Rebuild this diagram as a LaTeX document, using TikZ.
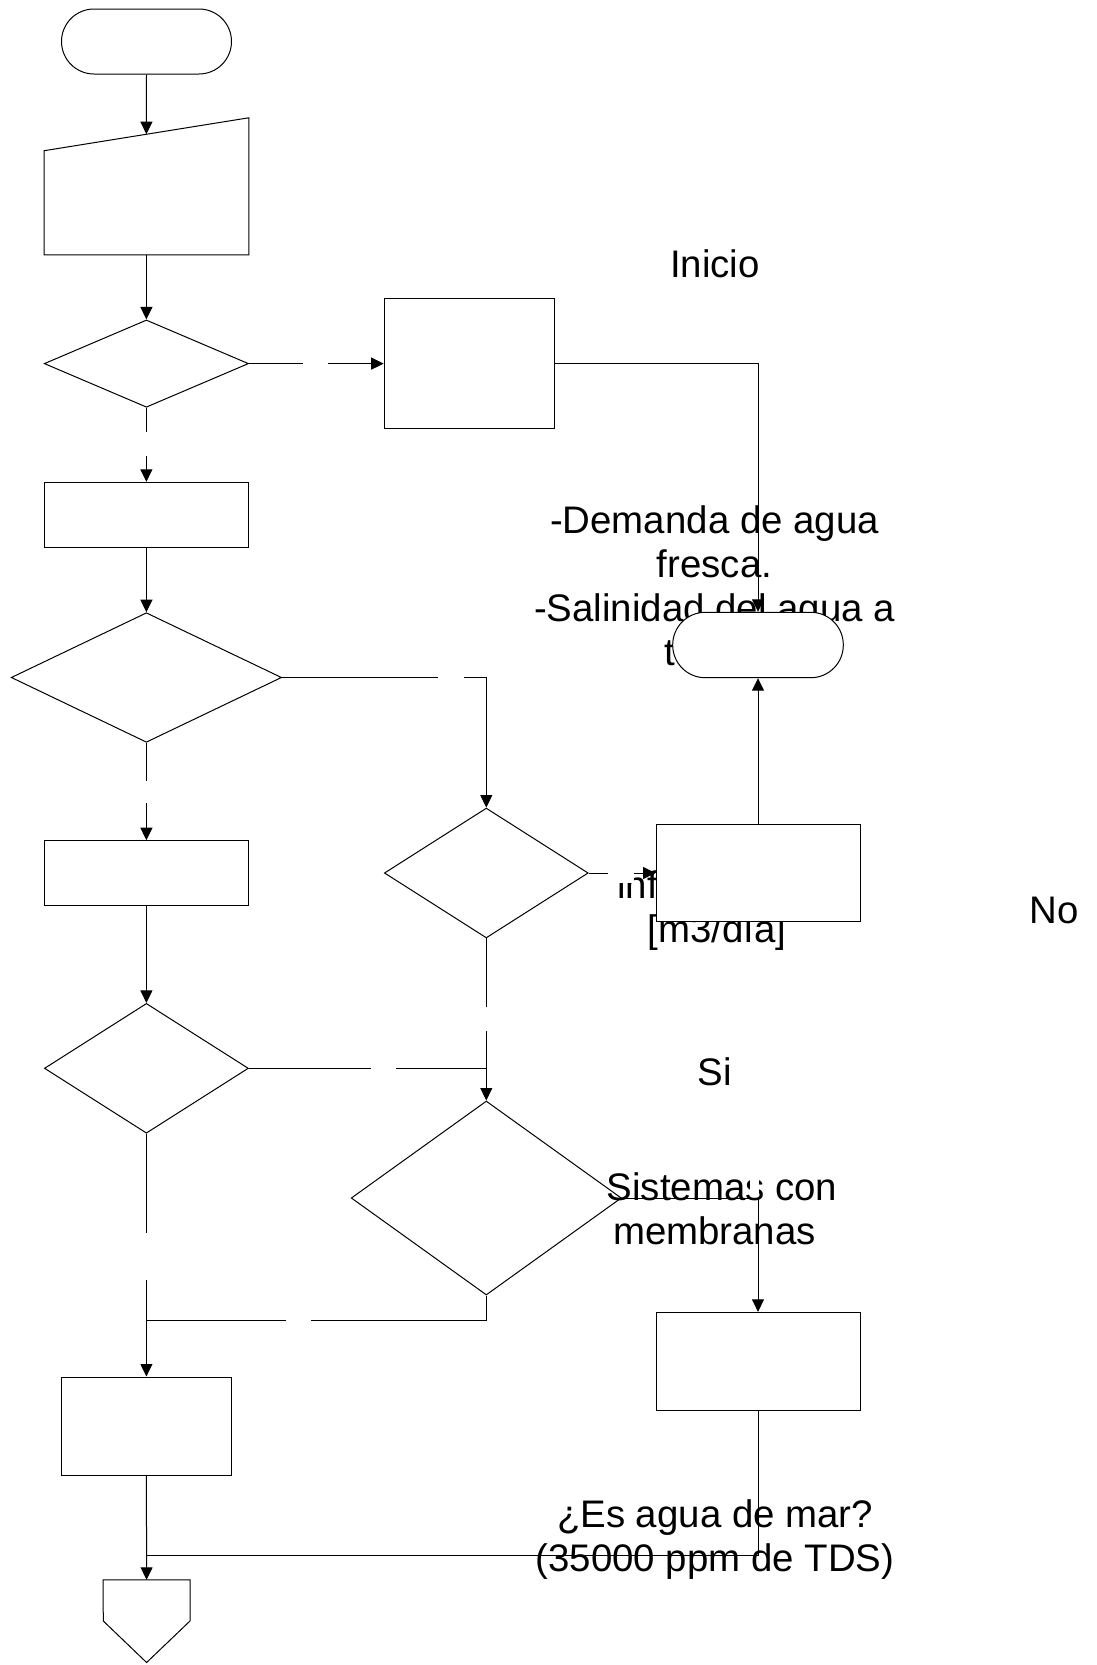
\documentclass[tikz,border=0pt]{standalone}
\usepackage{fontspec}
\setmainfont{Liberation Sans}
\usetikzlibrary{shapes.geometric,arrows.meta}

\tikzset{
  outline/.style={draw=black, line width=1pt, inner sep=0pt},
  boxshape/.style={outline, rectangle, fill=white},
  termshape/.style={outline, rectangle, fill=white, rounded corners=32.5pt},
  decision/.style={outline, diamond, fill=white},
  hollowdecision/.style={outline, diamond},
  ghost/.style={rectangle, inner sep=0pt, draw=none},
  wire/.style={draw=black, line width=1pt},
  flow/.style={wire, -{Triangle[length=12.5pt,width=12pt]}},
  gapbox/.style={rectangle, fill=white, draw=none, inner sep=0pt},
  lbl/.style={font=\fontsize{38.4pt}{44pt}\selectfont, inner sep=0pt, anchor=base}
}

\begin{document}
\begin{tikzpicture}[x=1pt,y=-1pt]
\useasboundingbox (0,0) rectangle (1097,1665);

% ---- texts ----
\node[lbl] (tInicio) at (715,277.3) {Inicio};
\node[lbl] (tDem1) at (714.5,533.3) {-Demanda de agua};
\node[lbl] (tDem2) at (714.5,577.3) {fresca.};
\node[lbl] (tDem3) at (714.5,621.3) {-Salinidad del agua a};
\node[lbl] (tDem4) at (714.5,665.3) {\makebox[2.612em][l]{t}};
\node[lbl] (tCau1) at (717,898.3) {\makebox[5.2em][l]{inf}};
\node[lbl] (tCau2) at (717,942.3) {[m3/día]};
\node[lbl] (tNo) at (1054,923) {No};
\node[lbl] (tSi) at (714.5,1085) {Si};
\node[lbl] (tSis1) at (722,1200) {Sistemas con};
\node[lbl] (tSis2) at (714.5,1244) {membranas};
\node[lbl] (tMar1) at (715,1527.5) {¿Es agua de mar?};
\node[lbl] (tMar2) at (715,1571.5) {(35000 ppm de TDS)};

% ---- left column ----
\node[termshape, minimum width=170pt, minimum height=65pt] (start) at (146.5,41.5) {};

\node[ghost, minimum width=204.3pt, minimum height=136.9pt] (inp) at (146.4,186.25) {};
\draw[wire, fill=white] (inp.north east |- 0,117.8) -- (inp.south east) -- (inp.south west) -- (44.2,150.7) -- cycle;
\coordinate (inptop) at (146.4,134.2);

\node[decision, minimum width=204.3pt, minimum height=87.3pt] (d1) at (146.4,363.6) {};
\node[boxshape, minimum width=204.4pt, minimum height=65pt] (rB) at (146.4,514.8) {};
\node[decision, minimum width=270.4pt, minimum height=129.6pt] (d2) at (146.4,677.5) {};
\node[boxshape, minimum width=204.4pt, minimum height=64.6pt] (rD) at (146.4,873) {};
\node[decision, minimum width=204pt, minimum height=129.8pt] (d4) at (146.4,1068.3) {};
\node[boxshape, minimum width=170pt, minimum height=98pt] (rE) at (146.4,1426) {};

\node[ghost, minimum width=86.7pt, minimum height=82.3pt] (off) at (146.6,1621.15) {};
\draw[wire, fill=white] (off.north west) -- (off.north east) -- (190,1621) -- (off.south) -- (103.3,1621) -- cycle;

% ---- middle column ----
\node[boxshape, minimum width=170pt, minimum height=130.3pt] (rA) at (469.2,363.6) {};
\node[decision, minimum width=203.9pt, minimum height=129.9pt] (d3) at (486.3,873) {};
\node[hollowdecision, minimum width=270.2pt, minimum height=194pt] (d5) at (486.3,1198) {};

% ---- right column ----
\node[termshape, minimum width=170.6pt, minimum height=65.4pt] (endT) at (758,645) {};
\node[boxshape, minimum width=204pt, minimum height=97.5pt] (rC) at (758,873) {};
\node[boxshape, minimum width=204pt, minimum height=97.7pt] (rF) at (758,1361.2) {};

% ---- junctions ----
\coordinate (j1) at (146.4,1320);
\coordinate (j2) at (146.4,1555.6);

% ---- connectors ----
\draw[flow] (start.south) -- (inptop);
\draw[flow] (inp.south) -- (d1.north);
\draw[flow] (d1.east) -- (rA.west);
\draw[flow] (rA.east) -| (endT.north);
\draw[flow] (d1.south) -- (rB.north);
\draw[flow] (rB.south) -- (d2.north);
\draw[flow] (d2.east) -| (d3.north);
\draw[flow] (d2.south) -- (rD.north);
\draw[flow] (rD.south) -- (d4.north);
\draw[flow] (d3.east) -- (rC.west);
\draw[flow] (rC.north) -- (endT.south);
\draw[flow] (d3.south) -- (d5.north);
\draw[wire] (d4.east) -- (d4.east -| d3.south);
\draw[flow] (d4.south) -- (rE.north);
\draw[wire] (d5.south) |- (j1);
\draw[flow] (d5.east) -| (rF.north);
\draw[wire] (rF.south) |- (j2);
\draw[flow] (rE.south) -- (off.north);

% ---- blank label boxes on the connectors ----
\node[gapbox, minimum width=25pt, minimum height=20pt] (g1) at (315.5,363.6) {};
\node[gapbox, minimum width=20pt, minimum height=24pt] (g2) at (146.4,444) {};
\node[gapbox, minimum width=25.6pt, minimum height=20pt] (g3) at (451.2,677.5) {};
\node[gapbox, minimum width=20pt, minimum height=22.6pt] (g4) at (146.4,792) {};
\node[gapbox, minimum width=25.7pt, minimum height=20pt] (g5) at (621,873) {};
\node[gapbox, minimum width=20pt, minimum height=23.4pt] (g6) at (486.3,1019) {};
\node[gapbox, minimum width=24.6pt, minimum height=20pt] (g7) at (383.4,1068.3) {};
\node[gapbox, minimum width=20pt, minimum height=47pt] (g8) at (146.4,1256) {};
\node[gapbox, minimum width=25.2pt, minimum height=20pt] (g9) at (298.5,1320) {};
\node[gapbox, minimum width=9pt, minimum height=17pt] (g10) at (754.5,1186) {};
\end{tikzpicture}
\end{document}
